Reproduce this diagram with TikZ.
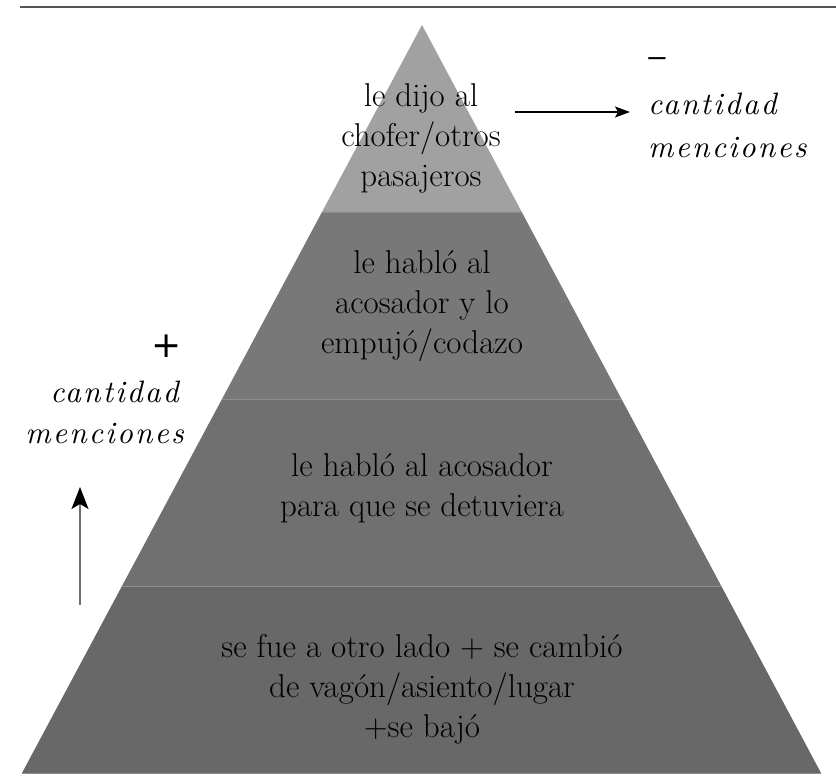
\documentclass[tikz,border=0pt]{standalone}
\usepackage{fontspec}
\newfontfamily\tracked[LetterSpace=7, ItalicFont=lmroman10-italic.otf]{lmroman10-regular.otf}
\newfontfamily\signfont{DejaVu Sans}
\newfontfamily\dashfont{Liberation Sans}
\usetikzlibrary{arrows.meta,calc}
\definecolor{tierA}{HTML}{A1A1A1}
\definecolor{tierB}{HTML}{787878}
\definecolor{tierC}{HTML}{707070}
\definecolor{tierD}{HTML}{686868}
\definecolor{rulegray}{HTML}{555555}
\definecolor{sepgray}{HTML}{8E8E8E}
\definecolor{shaftgray}{HTML}{707070}
\tikzset{
  tiertext/.style={align=center, font=\fontsize{33}{40}\selectfont, inner sep=0pt},
  sidetext/.style={font=\tracked\fontsize{31}{43}\selectfont\itshape, inner sep=0pt},
  signtext/.style={font=\signfont\fontsize{36}{40}\selectfont, inner sep=0pt},
  dashtext/.style={font=\dashfont\fontsize{31}{40}\selectfont, inner sep=0pt},
  seprule/.style={sepgray, line width=0.8pt},
}
\begin{document}
\begin{tikzpicture}[x=1pt,y=-1pt]
\useasboundingbox (0,0) rectangle (836,778);
\draw[rulegray, line width=2.5pt] (20,7) -- (836,7);
% pyramid
\coordinate (A) at (422,25);
\coordinate (BL) at (22,773);
\coordinate (BR) at (821,773);
\coordinate (L1) at ($(A)!0.25!(BL)$);
\coordinate (R1) at ($(A)!0.25!(BR)$);
\coordinate (L2) at ($(A)!0.5!(BL)$);
\coordinate (R2) at ($(A)!0.5!(BR)$);
\coordinate (L3) at ($(A)!0.75!(BL)$);
\coordinate (R3) at ($(A)!0.75!(BR)$);
\fill[tierA] (A) -- (R1) -- (L1) -- cycle;
\fill[tierB] (L1) -- (R1) -- (R2) -- (L2) -- cycle;
\fill[tierC] (L2) -- (R2) -- (R3) -- (L3) -- cycle;
\fill[tierD] (L3) -- (R3) -- (BR) -- (BL) -- cycle;
\draw[seprule] (L1) -- (R1);
\draw[seprule] (L2) -- (R2);
\draw[seprule] (L3) -- (R3);
\draw[seprule] (BL) -- (BR);
% tier texts
\node[tiertext] (t1) at (421,138) {le dijo al\\chofer/otros\\pasajeros};
\node[tiertext] (t2) at (422,306) {le habló al\\acosador y lo\\empujó/codazo};
\node[tiertext] (t3) at (422,488) {le habló al acosador\\para que se detuviera};
\node[tiertext] (t4) at (422,689) {se fue a otro lado + se cambió\\de vagón/asiento/lugar\\+se bajó};
% right label
\node[dashtext, anchor=center] (minus) at (657,62) {–};
\node[sidetext, anchor=base west] (rc) at (648,115) {cantidad};
\node[sidetext, anchor=base west] (rm) at (648,158) {menciones};
% left label
\node[signtext] (plus) at (167,346) {+};
\node[sidetext, anchor=base east] (lc) at (179,402) {cantidad};
\node[sidetext, anchor=base east] (lm) at (184,443) {menciones};
% arrows
\coordinate (ra0) at (515,112);
\coordinate (ra1) at (630,112);
\draw[black, line width=1.2pt, -{Stealth[length=15pt,width=11pt,inset=3pt]}] (ra0) -- (ra1);
\coordinate (ua0) at (80,605);
\coordinate (ua1) at (80,487);
\draw[shaftgray, line width=1.6pt, -{Stealth[length=22pt,width=17pt,inset=5pt,black]}] (ua0) -- (ua1);
\end{tikzpicture}
\end{document}
